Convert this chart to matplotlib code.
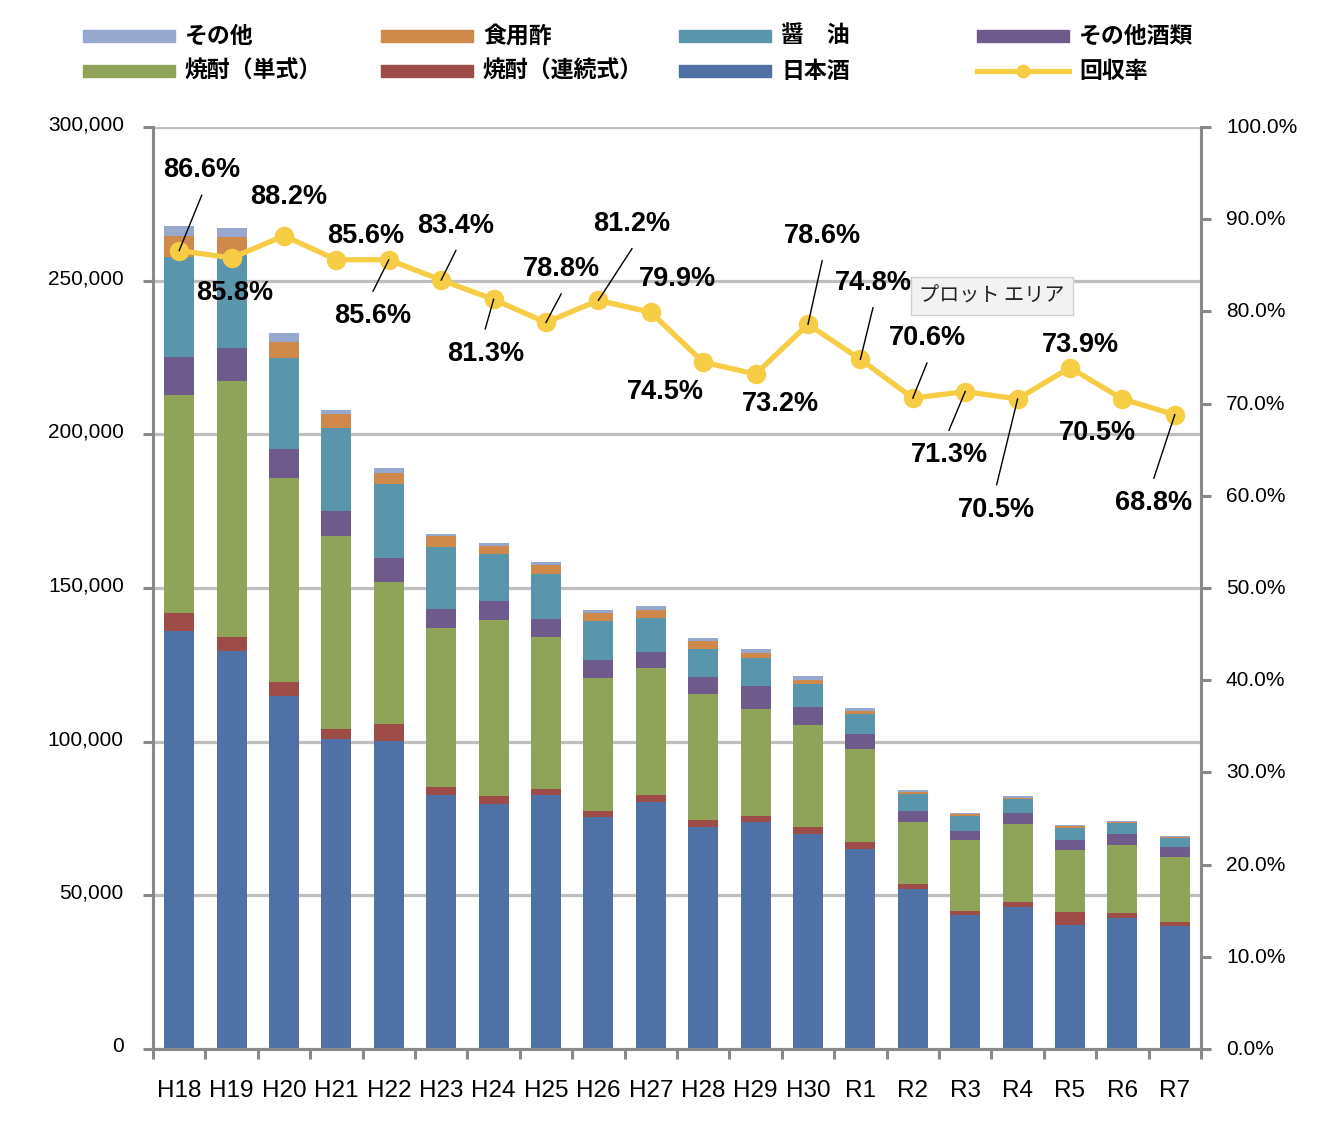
import numpy as np
import matplotlib
matplotlib.use("Agg")
import matplotlib.pyplot as plt
from matplotlib.patches import Rectangle
from matplotlib.lines import Line2D
from matplotlib.ticker import FuncFormatter, MultipleLocator
from matplotlib.transforms import ScaledTranslation

plt.rcParams['font.family'] = ['Liberation Sans', 'Noto Sans CJK JP', 'DejaVu Sans']

# data
years = ["H18", "H19", "H20", "H21", "H22", "H23", "H24", "H25", "H26", "H27",
         "H28", "H29", "H30", "R1", "R2", "R3", "R4", "R5", "R6", "R7"]
nihonshu = [136100, 129600, 114700, 101000, 100300, 82700, 79800, 82700, 75600, 80400,
            72300, 73900, 70000, 65100, 52100, 43600, 46200, 40400, 42700, 40100]
shochu_renzoku = [5700, 4600, 4800, 3200, 5600, 2600, 2600, 2000, 1900, 2300,
                  2300, 2000, 2300, 2300, 1600, 1300, 1700, 4200, 1600, 1300]
shochu_tanshiki = [70900, 83000, 66300, 62600, 45900, 51800, 57300, 49200, 43300, 41400,
                   41000, 34800, 33200, 30300, 20200, 23200, 25400, 20200, 22100, 21100]
sonota_shurui = [12500, 10800, 9300, 8100, 7800, 6200, 6200, 6100, 5900, 5200,
                 5600, 7500, 5900, 4900, 3600, 2900, 3600, 3300, 3600, 3300]
shoyu = [32500, 30300, 29700, 27000, 24200, 19900, 15100, 14700, 12700, 11100,
         9100, 9100, 7500, 6500, 5600, 4900, 4500, 3900, 3600, 2900]
shokuyosu = [6900, 5900, 5100, 4700, 3500, 3600, 2700, 2900, 2600, 2600,
             2300, 1700, 1300, 1000, 600, 600, 400, 600, 300, 300]
sonota = [3100, 2900, 3000, 1200, 1600, 800, 800, 700, 700, 1000,
          1000, 1300, 1300, 1000, 700, 400, 600, 400, 400, 400]
kaishuritsu = [86.6, 85.8, 88.2, 85.6, 85.6, 83.4, 81.3, 78.8, 81.2, 79.9,
               74.5, 73.2, 78.6, 74.8, 70.6, 71.3, 70.5, 73.9, 70.5, 68.8]

# label placement (x index, y percent) and whether a leader line is drawn
label_x = [0.43, 1.05, 2.08, 3.55, 3.70, 5.28, 5.84, 7.29, 8.64, 9.50,
           9.27, 11.47, 12.27, 13.24, 14.27, 14.69, 15.60, 17.19, 17.53, 18.60]
label_y = [95.3, 82.0, 92.4, 88.2, 79.5, 89.3, 75.4, 84.6, 89.5, 83.5,
           71.3, 70.0, 88.2, 83.1, 77.1, 64.4, 58.5, 76.4, 66.8, 59.2]
leader = [1, 0, 0, 0, 1, 1, 1, 1, 1, 0,
          0, 0, 1, 1, 1, 1, 1, 0, 0, 1]

series = [("日本酒", nihonshu, "#4f71a5"),
          ("焼酎（連続式）", shochu_renzoku, "#9d4c47"),
          ("焼酎（単式）", shochu_tanshiki, "#8fa459"),
          ("その他酒類", sonota_shurui, "#6e5a8b"),
          ("醤　油", shoyu, "#5a96ab"),
          ("食用酢", shokuyosu, "#cf894b"),
          ("その他", sonota, "#97a8ce")]
line_color = "#f7cd45"
axis_gray = "#898989"

W, H = 1340, 1126
fig = plt.figure(figsize=(W/100, H/100), dpi=100)
ax = fig.add_axes([153/W, 1-1049/H, 1048/W, 922/H])
x = np.arange(len(years))

bottom = np.zeros(len(years))
for name, vals, col in series:
    ax.bar(x, vals, 0.57, bottom=bottom, color=col, zorder=2)
    bottom += np.array(vals)

ax.set_xlim(-0.5, len(years)-0.5)
ax.set_ylim(0, 300000)
ax.yaxis.set_major_locator(MultipleLocator(50000))
ax.yaxis.set_major_formatter(FuncFormatter(lambda v, p: f"{int(v):,}"))
ax.yaxis.grid(True, color="#bfbfbf", linewidth=2.3, zorder=0)
ax.set_axisbelow(True)
ax.set_xticks(x)
ax.set_xticklabels(years)
ax.set_xticks(np.arange(-0.5, len(years), 1), minor=True)
ax.tick_params(axis='x', which='major', length=0, pad=22, labelsize=17.5)
ax.tick_params(axis='x', which='minor', length=7, width=2.2, color=axis_gray)
ax.tick_params(axis='y', length=7, width=2.2, color=axis_gray, pad=14, labelsize=15)
for s in ['top', 'right']:
    ax.spines[s].set_visible(False)
for s in ['left', 'bottom']:
    ax.spines[s].set_color(axis_gray)
    ax.spines[s].set_linewidth(2.2)

ax2 = ax.twinx()
ax2.set_ylim(0, 100)
ax2.yaxis.set_major_locator(MultipleLocator(10))
ax2.yaxis.set_major_formatter(FuncFormatter(lambda v, p: f"{v:.1f}%"))
ax2.tick_params(axis='y', length=7, width=2.2, color=axis_gray, pad=11, labelsize=15)
for s in ['top', 'left', 'bottom']:
    ax2.spines[s].set_visible(False)
ax2.spines['right'].set_color(axis_gray)
ax2.spines['right'].set_linewidth(2.2)

# Excel draws the left value labels a little above their ticks
up = ScaledTranslation(0, 0.04, fig.dpi_scale_trans)
for t in ax.yaxis.get_major_ticks():
    t.label1.set_transform(t.label1.get_transform() + up)
up2 = ScaledTranslation(0, 0.015, fig.dpi_scale_trans)
for t in ax2.yaxis.get_major_ticks():
    t.label2.set_transform(t.label2.get_transform() + up2)

ax2.plot(x, kaishuritsu, color=line_color, linewidth=3.8, marker='o',
         markersize=13, zorder=3)

for i, r in enumerate(kaishuritsu):
    ax2.text(label_x[i], label_y[i], f"{r:.1f}%", ha='center', va='center',
             fontsize=19.5, fontweight='bold', zorder=5)
    if leader[i]:
        ey = label_y[i] - 2.7 if label_y[i] > r else label_y[i] + 2.7
        ax2.plot([i, label_x[i]], [r, ey], color='black', linewidth=1.0, zorder=4)

# legend (Excel style, 2 rows x 4 columns)
legend_items = [("その他", "#97a8ce"), ("食用酢", "#cf894b"), ("醤　油", "#5a96ab"),
                ("その他酒類", "#6e5a8b"), ("焼酎（単式）", "#8fa459"),
                ("焼酎（連続式）", "#9d4c47"), ("日本酒", "#4f71a5"), ("回収率", None)]
for k, (name, col) in enumerate(legend_items):
    px = 83 + 298*(k % 4)
    py = 36 + 35*(k // 4)
    if col is not None:
        fig.add_artist(Rectangle((px/W, 1-(py+6)/H), 92/W, 12/H,
                                 transform=fig.transFigure, color=col))
    else:
        fig.add_artist(Line2D([px/W, (px+92)/W], [1-py/H, 1-py/H],
                              transform=fig.transFigure, color=line_color,
                              linewidth=3.8, marker=None))
        fig.add_artist(Line2D([(px+46)/W], [1-py/H], transform=fig.transFigure,
                              color=line_color, marker='o', markersize=9))
    fig.text((px+102)/W, 1-py/H, name, ha='left', va='center', fontsize=16.5,
             fontweight='bold', family=['Noto Sans CJK JP', 'DejaVu Sans'])

# hover tooltip left in the original screenshot
fig.text(992/W, 1-296/H, "プロット エリア", ha='center', va='center', fontsize=14.5,
         color='#222222', family=['Noto Sans CJK JP', 'DejaVu Sans'],
         bbox=dict(boxstyle='square,pad=0.4', facecolor='#f2f2f2', edgecolor='#d0d0d0'))

fig.savefig("out.png", dpi=100)
